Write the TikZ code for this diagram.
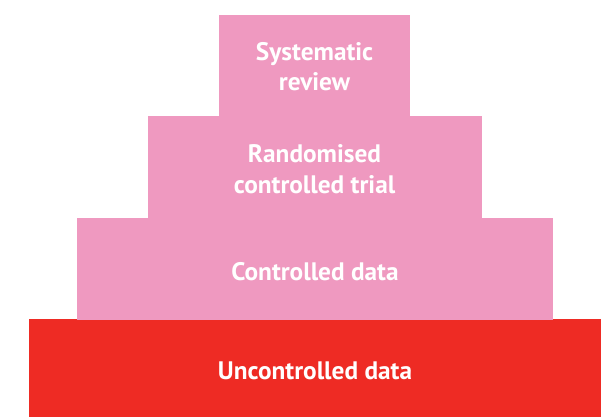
\documentclass[tikz,border=0pt]{standalone}
\usepackage{fontspec}
\setmainfont{PT Sans}
\definecolor{pinkc}{RGB}{239,153,192}
\definecolor{redc}{RGB}{238,43,36}
\begin{document}
\begin{tikzpicture}[x=1pt,y=-1pt,
  tier/.style={draw=none,inner sep=0pt,outer sep=0pt,rectangle},
  lbl/.style={text=white,font=\bfseries\fontsize{25.3}{30}\selectfont,inner sep=0pt,anchor=base}]
\useasboundingbox[fill=white] (0,0) rectangle (612,417);
\node[tier,fill=redc,minimum width=572pt,minimum height=98pt] (uc) at (315,368) {};
\node[tier,fill=pinkc,minimum width=476pt,minimum height=102pt] (cd) at (315,269) {};
\node[tier,fill=pinkc,minimum width=334pt,minimum height=102pt] (rct) at (315,167) {};
\node[tier,fill=pinkc,minimum width=191pt,minimum height=101pt] (sr) at (314.5,65.5) {};
\node[lbl] (sr1) at (314.5,61) {Systematic};
\node[lbl] (sr2) at (314.5,91) {review};
\node[lbl] (rct1) at (314.5,162) {Randomised};
\node[lbl] (rct2) at (314.5,193) {controlled trial};
\node[lbl] (cd1) at (315,280) {Controlled data};
\node[lbl] (uc1) at (315,379) {Uncontrolled data};
\end{tikzpicture}
\end{document}
